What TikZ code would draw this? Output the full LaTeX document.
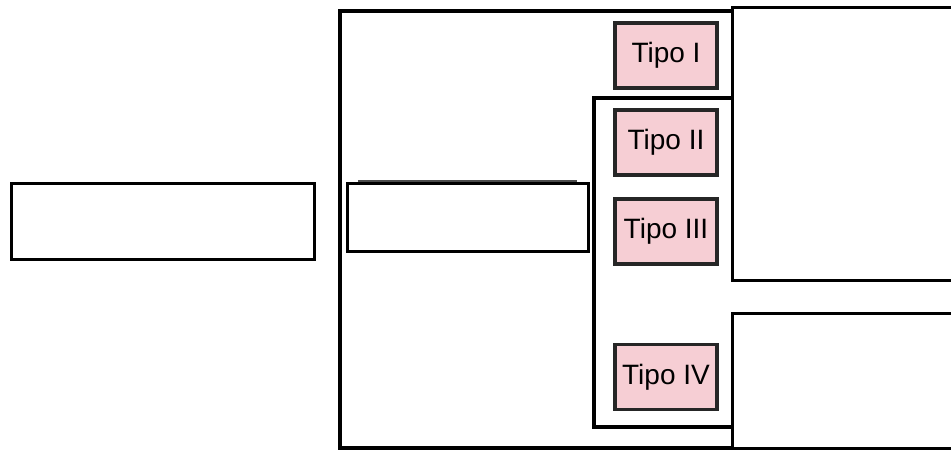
\documentclass[tikz,border=0pt]{standalone}
\usepackage{fontspec}
\setmainfont{Liberation Sans}
\definecolor{tipopink}{RGB}{246,206,212}
\begin{document}
\begin{tikzpicture}[x=1pt,y=-1pt,
  plainbox/.style={draw=black,line width=3pt,fill=white,inner sep=0pt},
  tipobox/.style={draw=black!85,line width=3.4pt,fill=tipopink,inner sep=0pt,
    minimum width=102pt,minimum height=65pt,font=\fontsize{28}{30}\selectfont},
  frame/.style={draw=black,line width=3.4pt}]
\useasboundingbox[fill=white] (0,0) rectangle (951,450);
% outer and inner frames
\draw[frame] (732,11) -| (340,448) -- (732,448);
\draw[frame] (732,98) -| (594,427) -- (732,427);
% boxes
\node[plainbox,minimum width=303pt,minimum height=76pt] (left) at (162.5,221) {};
\draw[black!70,line width=2pt] (358,181) -- (577,181);
\node[plainbox,minimum width=241pt,minimum height=68pt] (mid) at (467.5,217) {};
\node[tipobox] (t1) at (666,55.5) {Tipo I};
\node[tipobox] (t2) at (666,142.5) {Tipo II};
\node[tipobox] (t3) at (666,231.5) {Tipo III};
\node[tipobox] (t4) at (666,377) {Tipo IV};
\node[plainbox,minimum width=228pt,minimum height=273pt] (r1) at (846,143.5) {};
\node[plainbox,minimum width=228pt,minimum height=135pt] (r2) at (846,380.5) {};
\end{tikzpicture}
\end{document}
